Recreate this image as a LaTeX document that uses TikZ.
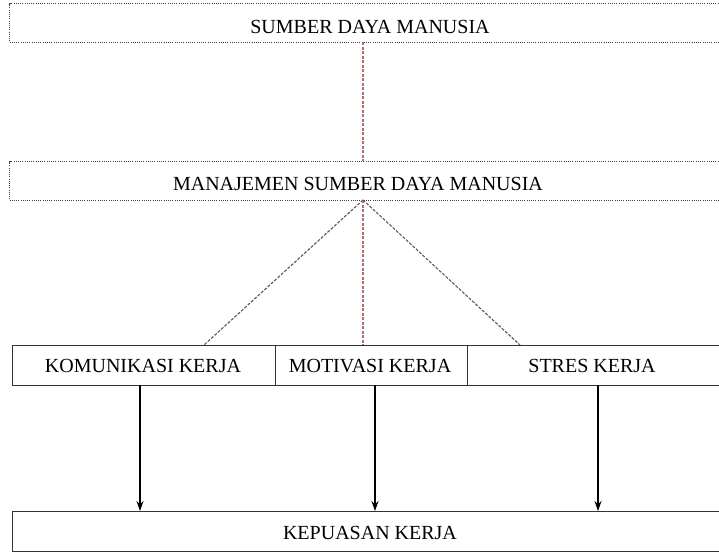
\documentclass[tikz,border=0pt]{standalone}
\usepackage{fontspec}
\setmainfont{Liberation Serif}
\usetikzlibrary{arrows.meta}
\begin{document}
\begin{tikzpicture}[x=1pt,y=-1pt,
  dotbox/.style={draw=black!75, dash pattern=on 1pt off 1.2pt, line width=1.1pt, minimum height=39pt, inner sep=0pt},
  solbox/.style={draw=black!80, line width=1.1pt, minimum height=40pt, inner sep=0pt},
  lbl/.style={font=\fontsize{20}{20}\selectfont},
  dline/.style={draw=black!65, dash pattern=on 3pt off 1.5pt, line width=1.1pt},
  rline/.style={draw={rgb,255:red,175;green,110;blue,110}, dash pattern=on 3pt off 1.5pt, line width=1.2pt},
  arr/.style={draw=black, line width=1.1pt, -{Stealth[length=10pt,width=7pt]}}]
\useasboundingbox (0,0) rectangle (719,552);
\fill[white] (0,0) rectangle (719,552);
% boxes
\node[dotbox, minimum width=720pt, anchor=north west] (sdm) at (9,3) {};
\node[lbl] (sdmt) at (370,27) {SUMBER DAYA MANUSIA};
\node[dotbox, minimum width=720pt, anchor=north west] (msdm) at (9,161) {};
\node[lbl] (msdmt) at (358,184) {MANAJEMEN SUMBER DAYA MANUSIA};
\node[solbox, minimum width=263pt, anchor=north west] (kom) at (12,345) {};
\node[lbl] (komt) at (143,366) {KOMUNIKASI KERJA};
\node[solbox, minimum width=192pt, anchor=north west] (mot) at (275,345) {};
\node[lbl] (mott) at (370,366) {MOTIVASI KERJA};
\node[solbox, minimum width=260pt, anchor=north west] (str) at (467,345) {};
\node[lbl] (strt) at (592,366) {STRES KERJA};
\node[solbox, minimum width=720pt, anchor=north west] (kep) at (12,511) {};
\node[lbl] (kept) at (370,533) {KEPUASAN KERJA};
% connector points
\coordinate (a1) at (363,42);
\coordinate (a2) at (363,161);
\coordinate (b0) at (363,200);
\coordinate (bl) at (204,345);
\coordinate (bm) at (363,345);
\coordinate (br) at (520,345);
\draw[rline] (a1) -- (a2);
\draw[dline] (b0) -- (bl);
\draw[rline] (b0) -- (bm);
\draw[dline] (b0) -- (br);
% arrows
\coordinate (k1) at (140,385);
\coordinate (k2) at (375,385);
\coordinate (k3) at (598,385);
\coordinate (e1) at (140,511);
\coordinate (e2) at (375,511);
\coordinate (e3) at (598,511);
\draw[arr] (k1) -- (e1);
\draw[arr] (k2) -- (e2);
\draw[arr] (k3) -- (e3);
\end{tikzpicture}
\end{document}
